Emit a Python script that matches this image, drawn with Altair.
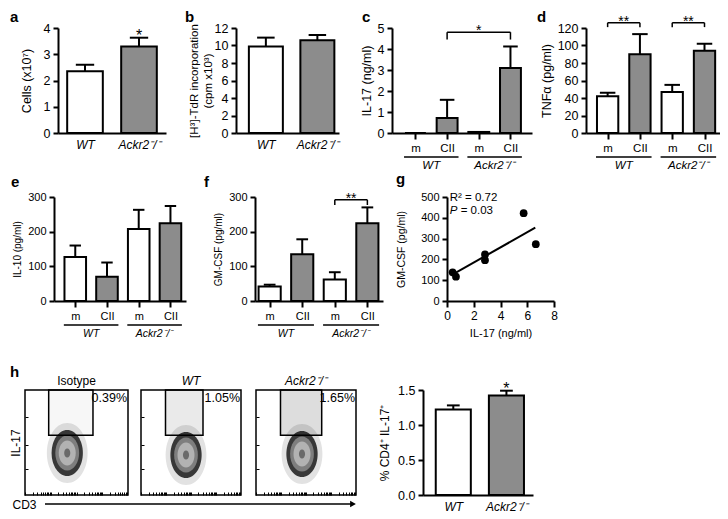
import json
import math
import altair as alt
import pandas as pd

FONT = "Liberation Sans"
WHITE = "#ffffff"
GRAY = "#8c8c8c"

# ---------------- data ----------------
geno_labels = ["WT", "Ackr2⁻/⁻"]

a_vals = [2.35, 3.30]
a_errs = [0.25, 0.33]
a_sig = ["", "*"]

b_vals = [9.9, 10.6]
b_errs = [1.0, 0.6]
b_sig = ["", ""]

treat_labels = ["m", "CII", "m", "CII"]
treat_geno = ["WT", "WT", "Ackr2⁻/⁻", "Ackr2⁻/⁻"]

c_vals = [0.0, 0.72, 0.05, 3.10]
c_errs = [0.0, 0.86, 0.0, 1.02]
d_vals = [42, 90, 47, 94]
d_errs = [4, 23, 8, 8]
e_vals = [127, 70, 208, 224]
e_errs = [33, 41, 55, 50]
f_vals = [42, 135, 62, 224]
f_errs = [5, 43, 21, 46]
no_sig4 = ["", "", "", ""]

c_brk = ([1], [3], [4.8], ["*"])
d_brk = ([0, 2], [1, 3], [126, 126], ["**", "**"])
f_brk = ([2], [3], [292], ["**"])

g_il17 = [0.42, 0.67, 2.84, 2.84, 5.73, 6.64]
g_gmcsf = [138, 117, 224, 196, 422, 273]
g_r2 = "0.72"
g_p = "0.03"

flow_titles = ["Isotype", "WT", "Ackr2⁻/⁻"]
flow_pct = [0.39, 1.05, 1.65]
gate_x1 = [23, 24.5, 24.5]
gate_x2 = [66, 62, 65.7]
gate_y1 = [57, 57, 57]
gate_y2 = [100, 100, 100]
blob_x = [41, 45, 46]
blob_y = [40, 38, 39]

h_vals = [1.22, 1.42]
h_errs = [0.06, 0.07]
h_sig = ["", "*"]

# ---------------- helpers ----------------
ONE = pd.DataFrame({"v": [0]})


def letter_mark(txt, px, py):
    return alt.Chart(ONE).mark_text(fontSize=15, fontWeight="bold", align="left",
                                    baseline="alphabetic").encode(
        x=alt.value(px), y=alt.value(py), text=alt.value(txt))


def spacer(w, h=1, letter=None):
    c = alt.Chart(ONE).mark_rule(strokeOpacity=0).encode(
        x=alt.value(0), y=alt.value(0), y2=alt.value(h))
    if letter is not None:
        c = alt.layer(c, letter_mark(*letter))
    return c.properties(width=w, height=h)


def bar_panel(labels, keys, key_domain, vals, errs, sig, *, width, height, xdom, ydom, yvals,
              ytitle, letter, ldx, ldy, hw, cw, ticks, lab_fs, ylab_fs, ytitle_fs,
              ytitle_pad=4, italic=False, yfmt=None, groups=None, brk=None, drop=0,
              star_fs=16, grp_fs=11):
    n = len(vals)
    df = pd.DataFrame({"pos": list(range(n)), "key": keys, "val": vals, "err": errs, "sig": sig})
    xs = alt.Scale(domain=xdom, nice=False, zero=False)
    ys = alt.Scale(domain=ydom, nice=False)
    base = alt.Chart(df).transform_calculate(
        lo=f"datum.pos - {hw}", hi=f"datum.pos + {hw}",
        clo=f"datum.pos - {cw}", chi=f"datum.pos + {cw}",
        top="datum.val + datum.err", zero="0")
    xaxis = alt.Axis(values=list(range(n)), tickCount=n,
                     labelExpr=json.dumps(labels, ensure_ascii=False) + "[datum.value]",
                     title=None, ticks=ticks, tickSize=6, labelFontSize=lab_fs,
                     labelFontStyle="italic" if italic else "normal",
                     labelPadding=3 if ticks else 6, labelFlush=False, labelOverlap=False)
    yargs = dict(values=yvals, tickCount=len(yvals), title=ytitle, labelFontSize=ylab_fs,
                 titleFontSize=ytitle_fs, labelPadding=3, tickSize=5, titlePadding=ytitle_pad,
                 labelFlush=False, labelOverlap=False)
    if yfmt:
        yargs["format"] = yfmt
    yaxis = alt.Axis(**yargs)
    bars = base.mark_bar(stroke="black", strokeWidth=2).encode(
        x=alt.X("lo:Q", scale=xs, axis=xaxis), x2="hi:Q",
        y=alt.Y("val:Q", scale=ys, axis=yaxis), y2="zero:Q",
        fill=alt.Fill("key:N", scale=alt.Scale(domain=key_domain, range=[WHITE, GRAY]), legend=None))
    err = base.transform_filter("datum.err > 0").mark_rule(color="black", strokeWidth=2).encode(
        x=alt.X("pos:Q", scale=xs), y=alt.Y("val:Q", scale=ys), y2="top:Q")
    cap = base.transform_filter("datum.err > 0").mark_rule(color="black", strokeWidth=2).encode(
        x=alt.X("clo:Q", scale=xs), x2="chi:Q", y=alt.Y("top:Q", scale=ys))
    layers = [bars, err, cap]
    if any(s for s in sig):
        layers.append(base.transform_filter("datum.sig != ''").mark_text(
            fontSize=star_fs, baseline="alphabetic", dy=3).encode(
            x=alt.X("pos:Q", scale=xs), y=alt.Y("top:Q", scale=ys), text="sig:N"))
    if brk is not None:
        bdf = pd.DataFrame({"f": brk[0], "t": brk[1], "y": brk[2], "m": brk[3]})
        bb = alt.Chart(bdf).transform_calculate(yl=f"datum.y - {drop}", mid="(datum.f + datum.t) / 2")
        layers += [
            bb.mark_rule(strokeWidth=1.5, color="black").encode(
                x=alt.X("f:Q", scale=xs), x2="t:Q", y=alt.Y("y:Q", scale=ys)),
            bb.mark_rule(strokeWidth=1.5, color="black").encode(
                x=alt.X("f:Q", scale=xs), y=alt.Y("y:Q", scale=ys), y2="yl:Q"),
            bb.mark_rule(strokeWidth=1.5, color="black").encode(
                x=alt.X("t:Q", scale=xs), y=alt.Y("y:Q", scale=ys), y2="yl:Q"),
            bb.mark_text(fontSize=14, baseline="alphabetic", dy=3).encode(
                x=alt.X("mid:Q", scale=xs), y=alt.Y("y:Q", scale=ys), text="m:N"),
        ]
    if groups is not None:
        names, first, last = [], [], []
        for i, g in enumerate(groups):
            if g not in names:
                names.append(g); first.append(i); last.append(i)
            else:
                last[names.index(g)] = i
        gdf = pd.DataFrame({"name": names, "first": first, "last": last})
        gb = alt.Chart(gdf).transform_calculate(
            glo="datum.first - 0.36", ghi="datum.last + 0.36", gmid="(datum.first + datum.last) / 2")
        layers += [
            gb.mark_rule(strokeWidth=1.5, color="black").encode(
                x=alt.X("glo:Q", scale=xs), x2="ghi:Q", y=alt.value(height + 24)),
            gb.mark_text(fontSize=grp_fs, fontStyle="italic", baseline="middle").encode(
                x=alt.X("gmid:Q", scale=xs), y=alt.value(height + 33), text="name:N"),
        ]
    if letter:
        layers.append(letter_mark(letter, ldx, ldy))
    return alt.layer(*layers).properties(width=width, height=height)


# ---------------- row 1 ----------------
H1 = 105
pa = bar_panel(geno_labels, geno_labels, geno_labels, a_vals, a_errs, a_sig, width=108, height=H1,
               xdom=[-0.5, 1.5], ydom=[0, 4], yvals=[0, 1, 2, 3, 4], ytitle="Cells (x10⁷)",
               letter="a", ldx=-48, ldy=-6, hw=0.33, cw=0.17, ticks=False, lab_fs=12,
               ylab_fs=12.5, ytitle_fs=12.5, ytitle_pad=10, italic=True)
pb = bar_panel(geno_labels, geno_labels, geno_labels, b_vals, b_errs, b_sig, width=103, height=H1,
               xdom=[-0.58, 1.42], ydom=[0, 12], yvals=[0, 2, 4, 6, 8, 10, 12],
               ytitle=["[H³]-TdR incorporation", "(cpm x10³)"],
               letter="b", ldx=-51, ldy=-6, hw=0.33, cw=0.17, ticks=False, lab_fs=12,
               ylab_fs=12.5, ytitle_fs=11.5, ytitle_pad=1, italic=True)
pc = bar_panel(treat_labels, treat_labels, ["m", "CII"], c_vals, c_errs, no_sig4, width=140, height=H1,
               xdom=[-0.74, 3.68], ydom=[0, 5], yvals=[0, 1, 2, 3, 4, 5], ytitle="IL-17 (ng/ml)",
               letter="c", ldx=-30, ldy=-6, hw=0.33, cw=0.23, ticks=True, lab_fs=11.5,
               ylab_fs=12.5, ytitle_fs=12.5, ytitle_pad=4, groups=treat_geno, brk=c_brk, drop=0.35,
               grp_fs=11.5)
pd_ = bar_panel(treat_labels, treat_labels, ["m", "CII"], d_vals, d_errs, no_sig4, width=134, height=H1,
                xdom=[-0.67, 3.48], ydom=[0, 120], yvals=[0, 20, 40, 60, 80, 100, 120],
                ytitle="TNFα (pg/ml)", letter="d", ldx=-49, ldy=-6, hw=0.33, cw=0.24, ticks=True,
                lab_fs=11.5, ylab_fs=12.5, ytitle_fs=12.5, ytitle_pad=4, groups=treat_geno,
                brk=d_brk, drop=5, grp_fs=11.5)

# ---------------- row 2 ----------------
H2 = 104
pe = bar_panel(treat_labels, treat_labels, ["m", "CII"], e_vals, e_errs, no_sig4, width=132, height=H2,
               xdom=[-0.67, 3.49], ydom=[0, 300], yvals=[0, 100, 200, 300], ytitle="IL-10 (pg/ml)",
               letter="e", ldx=-43, ldy=-10, hw=0.34, cw=0.18, ticks=True, lab_fs=11,
               ylab_fs=11, ytitle_fs=10, ytitle_pad=5, groups=treat_geno, grp_fs=10.5)
pf = bar_panel(treat_labels, treat_labels, ["m", "CII"], f_vals, f_errs, no_sig4, width=128, height=H2,
               xdom=[-0.45, 3.48], ydom=[0, 300], yvals=[0, 100, 200, 300], ytitle="GM-CSF (pg/ml)",
               letter="f", ldx=-51, ldy=-10, hw=0.34, cw=0.18, ticks=True, lab_fs=11,
               ylab_fs=11, ytitle_fs=10, ytitle_pad=5, groups=treat_geno, brk=f_brk, drop=15,
               grp_fs=10.5)

gdf = pd.DataFrame({"il17": g_il17, "gmcsf": g_gmcsf})
gxs = alt.Scale(domain=[0, 8], nice=False)
gys = alt.Scale(domain=[0, 500], nice=False)
g_xvals = [0, 2, 4, 6, 8]
g_yvals = [0, 100, 200, 300, 400, 500]
g_pts = alt.Chart(gdf).mark_circle(size=60, color="black", opacity=1).encode(
    x=alt.X("il17:Q", scale=gxs, axis=alt.Axis(values=g_xvals, tickCount=len(g_xvals),
                                                 title="IL-17 (ng/ml)", labelFontSize=12,
                                                 titleFontSize=11, tickSize=6, labelPadding=3,
                                                 titlePadding=6, labelFlush=False,
                                                 labelOverlap=False)),
    y=alt.Y("gmcsf:Q", scale=gys, axis=alt.Axis(values=g_yvals, tickCount=len(g_yvals),
                                                 title="GM-CSF (pg/ml)", labelFontSize=11,
                                                 titleFontSize=10.5, tickSize=5, labelPadding=3,
                                                 titlePadding=14, labelFlush=False,
                                                 labelOverlap=False)))
g_line = alt.Chart(gdf).transform_regression("il17", "gmcsf", extent=[0.3, 6.6]).mark_line(
    color="black", strokeWidth=2).encode(x=alt.X("il17:Q", scale=gxs), y=alt.Y("gmcsf:Q", scale=gys))
g_txt = alt.Chart(ONE).transform_calculate(t=f"'R² = {g_r2}'").mark_text(
    fontSize=11.5, align="left", baseline="middle").encode(
    x=alt.datum(0.2), y=alt.datum(494), text="t:N")
g_p1 = alt.Chart(ONE).transform_calculate(t="'P'").mark_text(
    fontSize=11.5, align="left", baseline="middle", fontStyle="italic").encode(
    x=alt.datum(0.2), y=alt.datum(433), text="t:N")
g_p2 = alt.Chart(ONE).transform_calculate(t=f"'= {g_p}'").mark_text(
    fontSize=11.5, align="left", baseline="middle", dx=11).encode(
    x=alt.datum(0.2), y=alt.datum(433), text="t:N")
pg = alt.layer(g_pts, g_line, g_txt, g_p1, g_p2, letter_mark("g", -51, -13)).properties(
    width=107, height=H2)

# ---------------- row 3 ----------------
H3 = 105
ELL = "M-0.68,0 A0.68,1 0 1,1 0.68,0 A0.68,1 0 1,1 -0.68,0 Z"
minor = [round(d + 25 * math.log10(k), 1) for d in [0, 25, 50, 75] for k in range(1, 10)]
yminor = [25, 48, 74]


def flow_panel(i, width, height, first):
    df = pd.DataFrame({"gx1": [gate_x1[i]], "gx2": [gate_x2[i]], "gy1": [gate_y1[i]],
                       "gy2": [gate_y2[i]], "bx": [blob_x[i]], "by": [blob_y[i]],
                       "pv": [flow_pct[i]]})
    base = alt.Chart(df).transform_calculate(lab="format(datum.pv, '.2f') + '%'")
    xs = alt.Scale(domain=[0, 100], nice=False)
    ys = alt.Scale(domain=[0, 100], nice=False)
    xa = dict(values=minor, tickCount=len(minor), labels=False, domain=False, tickSize=3,
              tickWidth=1, offset=-3)
    ya = dict(values=yminor, tickCount=len(yminor), labels=False, domain=False, tickSize=3,
              tickWidth=1, offset=-3)
    if first:
        xa.update(title="CD3", titleFontSize=12, titleAnchor="start", titleAlign="left",
                  titleX=-13, titleY=12, titleBaseline="middle", titleAngle=0)
        ya.update(title="IL-17", titleFontSize=12, titleX=-13, titleY=height / 2,
                  titleBaseline="middle", titleAlign="center", titleAngle=270)
    else:
        xa["title"] = None
        ya["title"] = None
    layers = []
    shades = [(60, "#e2e2e2"), (46, "#383838"), (35, "#7e7e7e"), (25, "#b2b2b2"), (9, "#6a6a6a")]
    for k, (s, col) in enumerate(shades):
        enc = dict(x=alt.X("bx:Q", scale=xs), y=alt.Y("by:Q", scale=ys))
        if k == 0:
            enc = dict(x=alt.X("bx:Q", scale=xs, axis=alt.Axis(**xa)),
                       y=alt.Y("by:Q", scale=ys, axis=alt.Axis(**ya)))
        layers.append(base.mark_point(shape=ELL, filled=True, color=col, opacity=1,
                                      size=s * s, strokeWidth=0).encode(**enc))
    layers.append(base.mark_rect(stroke="black", strokeWidth=1.5, fill="#000000").encode(
        x=alt.X("gx1:Q", scale=xs), x2="gx2:Q", y=alt.Y("gy1:Q", scale=ys), y2="gy2:Q",
        fillOpacity=alt.FillOpacity("pv:Q", scale=alt.Scale(domain=[0, 2], range=[0, 0.16]),
                                    legend=None)))
    layers.append(base.mark_text(fontSize=12.5, align="right", baseline="middle", dx=-1).encode(
        x=alt.datum(100), y=alt.datum(92), text="lab:N"))
    if first:
        layers.append(base.mark_rule(strokeWidth=1.5, color="black").encode(
            x=alt.value(20), x2=alt.value(326), y=alt.value(height + 9)))
        layers.append(base.mark_point(shape="triangle-right", filled=True, color="black",
                                      size=45, opacity=1).encode(
            x=alt.value(328), y=alt.value(height + 9)))
    title = alt.TitleParams(flow_titles[i], anchor="middle", fontSize=12, fontWeight="normal",
                            fontStyle="normal" if i == 0 else "italic", offset=0, dy=8,
                            baseline="alphabetic", font=FONT)
    return alt.layer(*layers).properties(
        width=width, height=height, title=title,
        view=alt.ViewBackground(stroke="black", strokeWidth=1.5))


fl1 = flow_panel(0, 103, H3, True)
fl2 = flow_panel(1, 100, H3, False)
fl3 = flow_panel(2, 100, H3, False)

ph = bar_panel(geno_labels, geno_labels, geno_labels, h_vals, h_errs, h_sig, width=110, height=H3,
               xdom=[-0.57, 1.5], ydom=[0, 1.5], yvals=[0, 0.5, 1.0, 1.5], ytitle="% CD4⁺ IL-17⁺",
               letter=None, ldx=0, ldy=0, hw=0.33, cw=0.12, ticks=False, lab_fs=12,
               ylab_fs=12.5, ytitle_fs=12, ytitle_pad=6, italic=True, yfmt=".1f")

# ---------------- layout ----------------
row1 = alt.hconcat(spacer(48), pa, spacer(69.4), pb, spacer(52.9), pc, spacer(54), pd_,
                   spacing=0, bounds="flush")
row2 = alt.hconcat(spacer(43.1), pe, spacer(68.6), pf, spacer(63.7), pg,
                   spacing=0, bounds="flush")
row3 = alt.hconcat(spacer(14.7, letter=("h", 0, -13)), fl1, spacer(12.7), fl2,
                   spacer(14.7), fl3, spacer(66.6), ph, spacing=0, bounds="flush")

chart = alt.vconcat(spacer(1, 2), row1, row2, spacer(1, 25), row3, spacing=0).properties(
    padding=0, background="white"
).configure_axis(
    labelFont=FONT, titleFont=FONT, labelColor="black", titleColor="black",
    domainColor="black", tickColor="black", domainWidth=2, tickWidth=2, grid=False,
    titleFontWeight="normal"
).configure_text(font=FONT, color="black").configure_title(
    font=FONT, color="black"
).configure_view(stroke=None)

chart.save("out.html", embed_options={"renderer": "svg", "actions": False})
